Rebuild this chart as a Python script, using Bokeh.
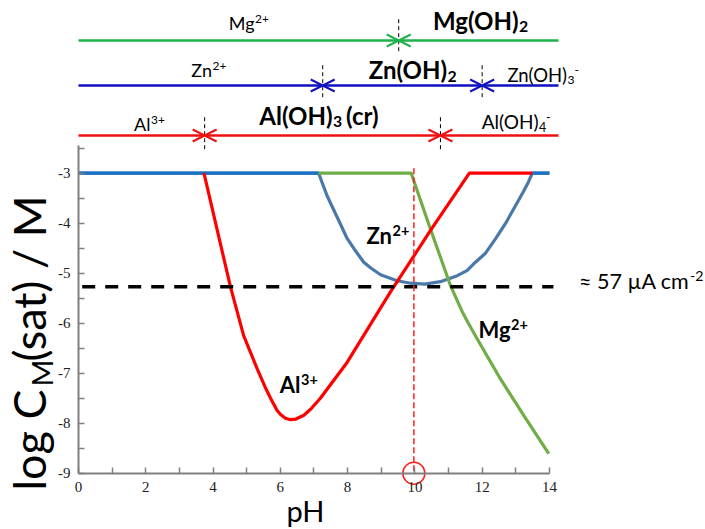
from math import pi

from bokeh.plotting import figure
from bokeh.models import Range1d, FixedTicker, Label, Arrow, OpenHead
from bokeh.embed import file_html
from bokeh.resources import INLINE

# --- saturation concentrations, log C_M(sat) vs pH ---
zn_ph = [0.0, 7.14, 7.25, 7.39, 7.55, 7.74, 7.99, 8.2, 8.48, 8.7, 8.98, 9.47, 9.87,
         10.3, 10.76, 11.26, 11.55, 11.8, 12.1, 12.4, 12.7, 12.94, 13.1, 13.24, 13.38,
         13.49, 14.0]
zn_logc = [-3.0, -3.0, -3.2, -3.45, -3.68, -3.95, -4.31, -4.52, -4.78, -4.9, -5.03,
           -5.15, -5.2, -5.22, -5.17, -5.05, -4.95, -4.78, -4.6, -4.31, -4.0, -3.71,
           -3.52, -3.35, -3.17, -3.0, -3.0]

mg_ph = [7.14, 9.89, 10.46, 11.06, 11.26, 11.4, 11.55, 11.85, 12.54, 13.24, 13.98]
mg_logc = [-3.0, -3.0, -4.11, -5.25, -5.55, -5.76, -5.95, -6.31, -7.11, -7.85, -8.61]

al_ph = [3.73, 4.52, 4.91, 5.31, 5.55, 5.71, 5.9, 6.0, 6.15, 6.3, 6.45, 6.7, 6.9,
         7.19, 7.99, 9.27, 10.46, 11.62, 13.49]
al_logc = [-3.0, -5.28, -6.25, -6.91, -7.28, -7.5, -7.74, -7.82, -7.9, -7.93, -7.92,
           -7.84, -7.72, -7.5, -6.78, -5.38, -4.15, -3.0, -3.0]

# threshold concentration (~57 uA cm-2) and the pH marked on the axis
threshold_logc = -5.27
marked_ph = 9.97

# predominance boundaries for the bars above the plot
mg_bounds = [9.52]
zn_bounds = [7.26, 12.0]
al_bounds = [3.75, 10.76]

x_ticks = list(range(0, 15))
y_ticks = [-9 + 0.5 * k for k in range(14)]

SANS = "Lato"
SERIF = "Liberation Serif"
W, H = 705, 529
# Label's "alphabetic" anchor sits this many ems above the drawn baseline
BASE_SHIFT = 0.36

# the frame fills the whole page; the axes sit at pH 0 and log C = -9
p = figure(width=W, height=H, x_range=Range1d(-2.319, 18.64), y_range=Range1d(-10.126, 0.454),
           output_backend="svg", toolbar_location=None,
           min_border_left=0, min_border_right=0, min_border_top=0, min_border_bottom=0)
p.grid.visible = False
p.outline_line_color = None
p.background_fill_color = "white"

for ax in (p.xaxis, p.yaxis):
    ax.axis_line_color = "#808080"
    ax.axis_line_width = 2
    ax.major_tick_line_color = "#808080"
    ax.major_tick_line_width = 1.5
    ax.major_tick_in = 6
    ax.major_tick_out = 0
    ax.minor_tick_line_color = None
    ax.major_label_text_font = SERIF
    ax.major_label_text_font_size = "15px"
    ax.major_label_text_color = "#222222"

p.xaxis.fixed_location = -9.0
p.xaxis.bounds = (0, 14)
p.xaxis.ticker = FixedTicker(ticks=x_ticks)
p.xaxis.major_label_overrides = {t: (str(t) if t % 2 == 0 else "") for t in x_ticks}
p.xaxis.major_label_standoff = 9

p.yaxis.fixed_location = 0.0
p.yaxis.bounds = (-9, -2.45)
p.yaxis.ticker = FixedTicker(ticks=y_ticks)
p.yaxis.major_label_overrides = {t: (str(int(t)) if t == int(t) else "") for t in y_ticks}
p.yaxis.major_label_standoff = 8

# curves
p.line(zn_ph, zn_logc, line_color="#4a78a8", line_width=3.2, line_join="round")
p.line(zn_ph[:2], zn_logc[:2], line_color="#1a72c6", line_width=3.2)
p.line(zn_ph[-2:], zn_logc[-2:], line_color="#1a72c6", line_width=3.2)
p.line(mg_ph, mg_logc, line_color="#70ad47", line_width=3.2, line_join="round")
p.line(al_ph, al_logc, line_color="#ff0000", line_width=3.2, line_join="round")

# threshold and marked pH
p.line([0.11, 14.12], [threshold_logc, threshold_logc], line_color="black",
       line_width=3.5, line_dash="13 10")
p.line([marked_ph, marked_ph], [-2.9, -9.0], line_color="#ff2020",
       line_width=1.5, line_dash="6 3")
p.scatter([marked_ph], [-9.0], marker="circle", size=22, fill_color=None,
          line_color="#ff2020", line_width=1.5)


def piece(x, base_y, text, size, bold=False, align="left"):
    """Horizontal text; x and the baseline base_y in page pixels from the top-left."""
    p.add_layout(Label(x=x, y=H - (base_y - BASE_SHIFT * size), x_units="screen",
                       y_units="screen", text=text, text_font=SANS,
                       text_font_size=f"{size:.1f}px",
                       text_font_style="bold" if bold else "normal", text_align=align,
                       text_baseline="alphabetic", text_color="black"))


def vpiece(base_x, start_y, text, size):
    """Text reading upwards, starting at page row start_y, baseline at column base_x."""
    p.add_layout(Label(x=base_x - BASE_SHIFT * size, y=H - start_y, x_units="screen",
                       y_units="screen", text=text, text_font=SANS,
                       text_font_size=f"{size:.1f}px", text_align="left",
                       text_baseline="alphabetic", angle=pi / 2, text_color="black"))


def rich(j, base_y, base, size, bold=False, sub=None, sup=None, after=None, sub_w=0.0):
    """Base text ending at x=j, followed by subscript / superscript / more text."""
    small = 0.66 * size
    piece(j, base_y, base, size, bold, align="right")
    x = j + 0.5
    if sub:
        piece(x, base_y + 0.15 * size, sub, small, bold)
    if sup:
        piece(x + (sub_w if sub else 0.0), base_y - 0.36 * size, sup, small, bold)
    if after:
        piece(x + sub_w, base_y, after, size, bold)


# predominance bars above the plot
def bar(bounds, y, color, y_tick):
    edges = [0.0] + bounds + [14.27]
    for i in range(len(edges) - 1):
        start = OpenHead(size=12, line_color=color, line_width=2) if i > 0 else None
        end = OpenHead(size=12, line_color=color, line_width=2) if i < len(edges) - 2 else None
        p.add_layout(Arrow(x_start=edges[i], y_start=y, x_end=edges[i + 1], y_end=y,
                           start=start, end=end, line_color=color, line_width=2.5))
    for bnd in bounds:
        p.line([bnd, bnd], list(y_tick), line_color="black", line_width=1, line_dash="4 3")


bar(mg_bounds, -0.346, "#1db24a", (0.08, -0.62))
bar(zn_bounds, -1.246, "#1010c0", (-0.84, -1.54))
bar(al_bounds, -2.246, "#f01010", (-1.88, -2.52))

rich(254, 29, "Mg", 18, sup="2+")
rich(518, 28.5, "Mg(OH)", 24, bold=True, sub="2")
rich(211.5, 76, "Zn", 18, sup="2+")
rich(446.5, 78, "Zn(OH)", 24, bold=True, sub="2")
rich(566.5, 81, "Zn(OH)", 18.5, sub="3", sup="-", sub_w=7)
rich(150, 130, "Al", 18, sup="3+")
rich(332, 123.3, "Al(OH)", 24, bold=True, sub="3", after="(cr)", sub_w=13)
rich(538, 128.3, "Al(OH)", 19, sub="4", sup="-", sub_w=7)

# curve labels
rich(391.5, 242.7, "Zn", 22, bold=True, sup="2+")
rich(510, 336.7, "Mg", 22, bold=True, sup="2+")
rich(300, 391.7, "Al", 22, bold=True, sup="3+")
rich(689, 288.3, "≈ 57 µA cm", 21.5, sup="-2")

# axis titles
piece(305, 520, "pH", 29, align="center")
vpiece(45, 490, "log C", 45)
vpiece(51, 386, "M", 29)
vpiece(45, 361, "(sat) / M", 45)

open("out.html", "w").write(file_html(p, INLINE))
